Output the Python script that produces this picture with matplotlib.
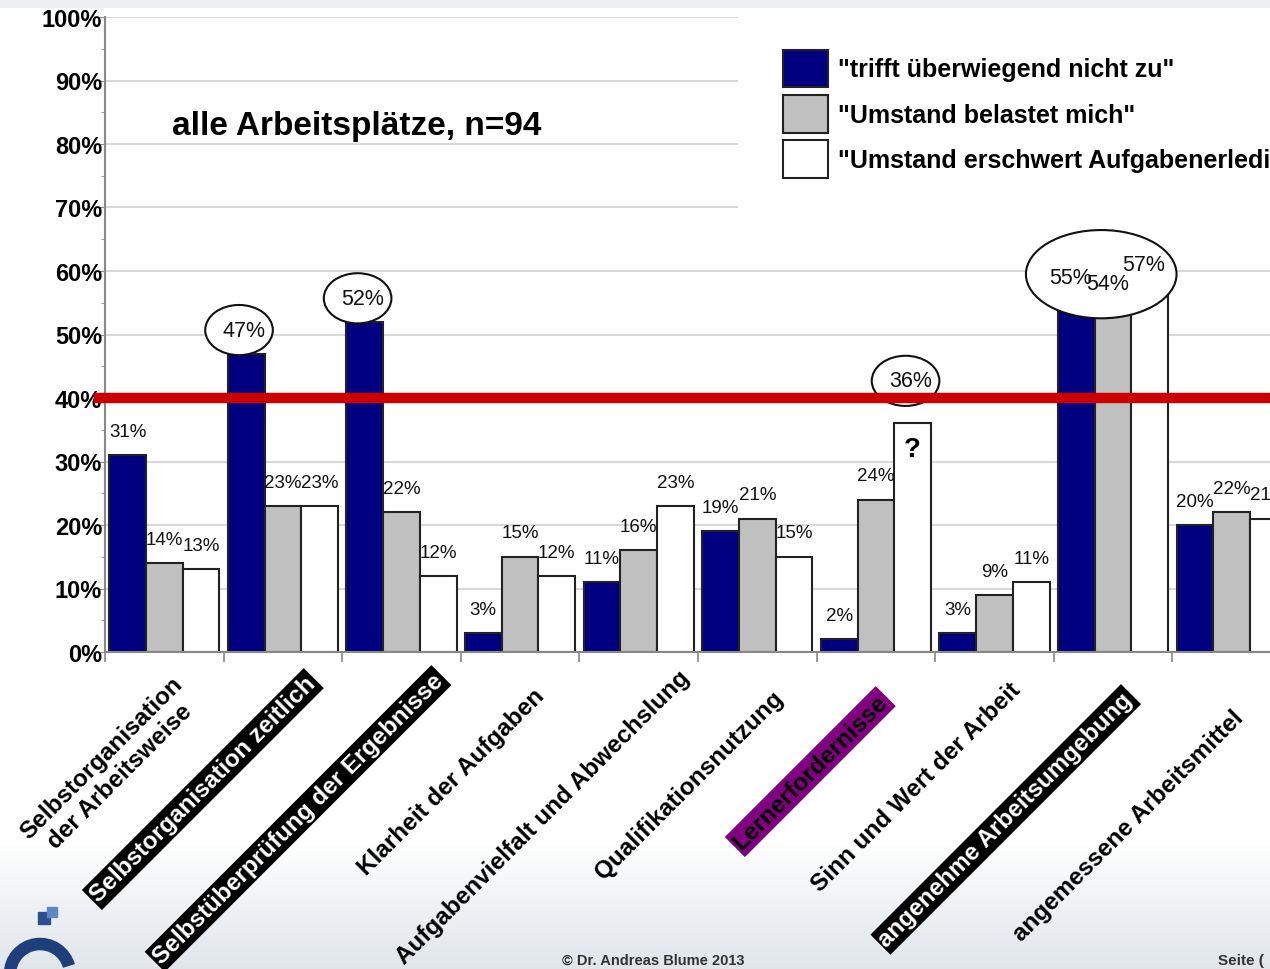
import numpy as np
import matplotlib.pyplot as plt
import matplotlib.transforms as mtransforms
from matplotlib.patches import Ellipse, Rectangle, Arc

plt.rcParams['font.family'] = ['Liberation Sans', 'DejaVu Sans']

# Daten
kategorien = ["Selbstorganisation\nder Arbeitsweise", "Selbstorganisation zeitlich",
              "Selbstüberprüfung der Ergebnisse", "Klarheit der Aufgaben",
              "Aufgabenvielfalt und Abwechslung", "Qualifikationsnutzung",
              "Lernerfordernisse", "Sinn und Wert der Arbeit",
              "angenehme Arbeitsumgebung", "angemessene Arbeitsmittel"]
trifft_nicht_zu = [31, 47, 52, 3, 11, 19, 2, 3, 55, 20]
belastet = [14, 23, 22, 15, 16, 21, 24, 9, 54, 22]
erschwert = [13, 23, 12, 12, 23, 15, 36, 11, 57, 21]
serien_namen = ['"trifft überwiegend nicht zu"', '"Umstand belastet mich"',
                '"Umstand erschwert Aufgabenerledigung"']
schwelle = 40
y_ticks = list(range(0, 101, 10))

# Hervorhebungen
schwarz_markiert = [1, 2, 8]
lila_markiert = [6]
eingekreist = [(0, 1), (0, 2), (2, 6)]     # (serie, kategorie)
gruppe_eingekreist = 8

farben = ['#000080', '#c0c0c0', '#ffffff']
serien = [trifft_nicht_zu, belastet, erschwert]

fig = plt.figure(figsize=(12.7, 9.7), dpi=100)

# Hintergrund (Verlauf unten)
bg = fig.add_axes([0, 0, 1, 1], zorder=-10)
bg.axis('off')
h = 970
grad = np.ones((h, 1, 3))
start = 840
t = np.linspace(0, 1, h - start)[:, None]
grad[start:, 0, :] = (1 - t) * np.array([1, 1, 1]) + t * np.array([0.88, 0.90, 0.92])
bg.imshow(grad, extent=[0, 1, 0, 1], aspect='auto', transform=fig.transFigure)

# oberer grauer Streifen über allem
fig.patches.append(Rectangle((0, 1 - 9 / 970), 1, 9 / 970, transform=fig.transFigure,
                             facecolor='#edf1f4', edgecolor='none', zorder=10))

ax = fig.add_axes([105 / 1270, 317 / 970, 1186 / 1270, 635 / 970])
x = np.arange(len(kategorien))
w = 0.31

for k, werte in enumerate(serien):
    ax.bar(x + (k - 1) * w, werte, w, color=farben[k], edgecolor='#222222',
           linewidth=1.5, label=serien_namen[k], zorder=2)

# Wertebeschriftungen
gross = set(eingekreist) | {(k, gruppe_eingekreist) for k in range(3)}
for k, werte in enumerate(serien):
    for i, v in enumerate(werte):
        xp = i + (k - 1) * w
        if (k, i) in gross:
            continue
        ax.annotate(f"{v}%", (xp, v), xytext=(0, 11), textcoords='offset points',
                    ha='center', va='bottom', fontsize=13.5, color='#111111', zorder=6)

# Ellipsen um einzelne Werte
for k, i in eingekreist:
    v = serien[k][i]
    xp = i + (k - 1) * w
    dy = 6.7 if v < schwelle else 3.7
    ax.add_patch(Ellipse((xp - 0.06, v + dy), 0.57, 7.9, facecolor='white',
                         edgecolor='#111111', lw=1.5, zorder=3))
    ax.text(xp - 0.02, v + dy, f"{v}%", ha='center', va='center', fontsize=15.5,
            color='#111111', zorder=6)

# große Ellipse um die Gruppe
g = gruppe_eingekreist
ax.add_patch(Ellipse((g - 0.1, 59.5), 1.27, 13.9, facecolor='white',
                     edgecolor='#111111', lw=1.5, zorder=3))
for k in range(3):
    v = serien[k][g]
    ax.text(g + (k - 1) * w - 0.05, v + 4, f"{v}%", ha='center', va='center',
            fontsize=15.5, color='#111111', zorder=6)

# Fragezeichen
ax.text(6 + w, erschwert[6] - 4, "?", ha='center', va='center', fontsize=20,
        fontweight='bold', zorder=6)

# Schwellenlinie
ax.axhline(schwelle, xmin=-0.005, xmax=1, color='#cc0000', lw=7.5, zorder=4, clip_on=False)

# Achsen
ax.set_xlim(-0.5, len(kategorien) - 0.5)
ax.set_ylim(0, 100)
ax.set_yticks(y_ticks)
ax.set_yticklabels([f"{v}%" for v in y_ticks], fontsize=17, fontweight='bold')
ax.set_yticks(np.arange(5, 100, 10), minor=True)
ax.tick_params(axis='y', which='major', length=4, color='#888888', pad=-2)
ax.tick_params(axis='y', which='minor', length=3, color='#888888')
ax.yaxis.grid(True, color='#d9d9d9', lw=1.5)
ax.set_axisbelow(True)

ax.set_xticks(x)
ax.set_xticklabels([])
ax.tick_params(axis='x', which='major', length=0)
ax.set_xticks(np.arange(-0.5, len(kategorien), 1), minor=True)
ax.tick_params(axis='x', which='minor', length=7, color='#888888', width=1.2)

for s in ['top', 'right']:
    ax.spines[s].set_visible(False)
ax.spines['left'].set_color('#888888')
ax.spines['left'].set_linewidth(1.5)
ax.spines['bottom'].set_color('#888888')
ax.spines['bottom'].set_linewidth(1.5)

# Kategorienbeschriftungen (gedreht)
versatz_px = [(24, 37), (29, 28), (38, 25), (21, 40), (47, 22),
              (22, 42), (8, 46), (22, 34), (16, 44), (8, 62)]
for i, name in enumerate(kategorien):
    dx, dy = versatz_px[i]
    tr = ax.get_xaxis_transform() + mtransforms.ScaledTranslation(dx / 100, -dy / 100, fig.dpi_scale_trans)
    kw = dict(rotation=45, rotation_mode='anchor', ha='right', va='center',
              multialignment='center', fontsize=17.5, fontweight='bold',
              transform=tr, clip_on=False)
    if i in schwarz_markiert:
        ax.text(i, 0, name, color='white',
                bbox=dict(facecolor='black', edgecolor='none', pad=2), **kw)
    elif i in lila_markiert:
        ax.text(i, 0, name, color='black',
                bbox=dict(facecolor='#800080', edgecolor='none', pad=2), **kw)
    else:
        ax.text(i, 0, name, color='black', **kw)

# Legende
ax.legend(loc='upper left', bbox_to_anchor=(725 / 1270, 1 + 7 / 970),
          bbox_transform=fig.transFigure, prop=dict(size=18, weight='bold'),
          handlelength=1.8, handleheight=1.96, labelspacing=0.3, handletextpad=0.4,
          borderpad=1.8, frameon=True, facecolor='white', edgecolor='none',
          framealpha=1, fancybox=False)

# Titel im Diagramm
fig.text(172 / 1270, 1 - 127 / 970, "alle Arbeitsplätze, n=94", fontsize=24,
         fontweight='bold', va='center', ha='left')

# Fußzeile
fig.text(653 / 1270, 1 - 961 / 970, "© Dr. Andreas Blume 2013", fontsize=10.5,
         fontweight='bold', color='#333333', ha='center', va='center')
fig.text(1218 / 1270, 1 - 961 / 970, "Seite (", fontsize=11,
         fontweight='bold', color='#333333', ha='left', va='center')

# angedeutetes Logo unten links
bg.add_patch(Arc((40 / 1270, 1 - 975 / 970), 60 / 1270, 60 / 970, theta1=20, theta2=180,
                 lw=9, color='#1f3f7a', transform=fig.transFigure))
bg.add_patch(Rectangle((38 / 1270, 1 - 925 / 970), 12 / 1270, 12 / 970,
                       color='#2b4f8f', transform=fig.transFigure))
bg.add_patch(Rectangle((47 / 1270, 1 - 918 / 970), 10 / 1270, 10 / 970,
                       color='#5c86c4', transform=fig.transFigure))

fig.savefig('out.png', dpi=100)
plt.close()
